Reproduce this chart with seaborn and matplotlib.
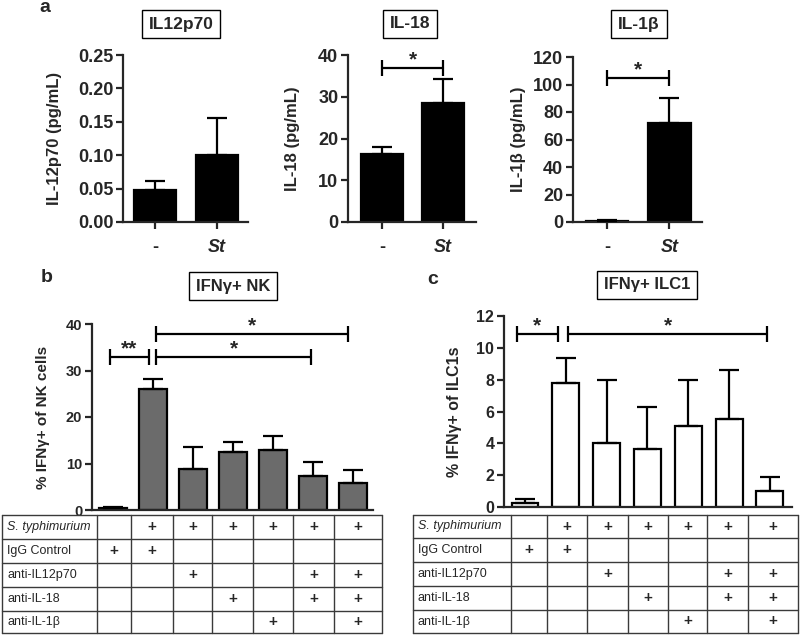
import numpy as np
import pandas as pd
import seaborn as sns
import matplotlib.pyplot as plt

# ---- data ----
a_groups = ['-', 'St']
il12_mean = [0.048, 0.100]
il12_top = [0.062, 0.155]
il18_mean = [16.2, 28.6]
il18_top = [18.0, 34.3]
il1b_mean = [1.0, 72.0]
il1b_top = [1.5, 90.5]

conds = ['c1', 'c2', 'c3', 'c4', 'c5', 'c6', 'c7']
nk_mean = [0.4, 26.0, 8.9, 12.5, 12.9, 7.3, 5.8]
nk_top = [0.55, 28.1, 13.5, 14.6, 15.9, 10.3, 8.7]
ilc_mean = [0.25, 7.8, 4.0, 3.65, 5.1, 5.5, 1.0]
ilc_top = [0.5, 9.35, 8.0, 6.3, 8.0, 8.6, 1.9]

row_labels = ['S. typhimurium', 'IgG Control', 'anti-IL12p70', 'anti-IL-18', 'anti-IL-1\u03b2']
st_row = [0, 1, 1, 1, 1, 1, 1]
igg_row = [1, 1, 0, 0, 0, 0, 0]
il12_row = [0, 0, 1, 0, 0, 1, 1]
il18_row = [0, 0, 0, 1, 0, 1, 1]
il1b_row = [0, 0, 0, 0, 1, 0, 1]
table_rows = [st_row, igg_row, il12_row, il18_row, il1b_row]

# significance brackets: (x1, x2, y, text)
il18_sig = [(0, 1, 37, '*')]
il1b_sig = [(0, 1, 105, '*')]
nk_sig = [(-0.08, 0.9, 33, '**'), (1.08, 4.95, 33, '*'), (1.08, 5.88, 37.8, '*')]
ilc_sig = [(-0.2, 0.8, 10.9, '*'), (1.05, 5.93, 10.9, '*')]

sns.set_style('ticks')
plt.rcParams['font.family'] = ['Liberation Sans', 'DejaVu Sans']
plt.rcParams['axes.linewidth'] = 1.6

W, H = 800, 635
fig = plt.figure(figsize=(8, 6.35), dpi=100)


def rect(l, t, r, b):
    return [l / W, 1 - b / H, (r - l) / W, (b - t) / H]


def bar_panel(box, groups, mean, top, color, ylim, yticks, xlim, width, fsize, lsize, ylabel,
              label_px, fmt=None):
    ax = fig.add_axes(rect(*box))
    df = pd.DataFrame({'g': groups, 'v': mean})
    sns.barplot(data=df, x='g', y='v', order=groups, color=color, edgecolor='black',
                linewidth=1.6, width=width, errorbar=None, saturation=1, ax=ax)
    xs = np.arange(len(groups))
    up = np.array(top) - np.array(mean)
    ax.errorbar(xs, mean, yerr=[np.zeros(len(xs)), up], fmt='none', ecolor='black',
                elinewidth=1.6, capsize=7, capthick=1.6, zorder=3)
    ax.set_ylim(*ylim)
    ax.set_yticks(yticks)
    if fmt:
        ax.set_yticklabels([fmt.format(t) for t in yticks])
    ax.set_xlim(*xlim)
    ax.set_xlabel('')
    ax.set_ylabel(ylabel, fontsize=lsize, fontweight='bold')
    lx = (label_px - box[0]) / (box[2] - box[0])
    ax.yaxis.set_label_coords(lx, 0.5)
    ax.tick_params(axis='y', direction='out', length=5, width=1.6, labelsize=fsize, pad=2)
    ax.tick_params(axis='x', direction='out', length=5, width=1.6)
    for t in ax.get_yticklabels():
        t.set_fontweight('bold')
    sns.despine(ax=ax)
    return ax


def sig(ax, items, fs, ms):
    for x1, x2, y, s in items:
        ax.plot([x1, x2], [y, y], color='black', lw=1.6)
        ax.plot([x1, x2], [y, y], ls='none', marker='|', ms=ms, mew=1.6, color='black')
        ax.annotate(s, xy=((x1 + x2) / 2, y), xytext=(0, -1), textcoords='offset points',
                    ha='center', va='bottom', fontsize=fs, fontweight='bold')


def title_box(x, y, s, fs):
    fig.text(x / W, 1 - y / H, s, ha='center', va='center', fontsize=fs, fontweight='bold',
             bbox=dict(boxstyle='square,pad=0.4', fc='white', ec='black', lw=1))


def a_xticks(ax):
    ax.set_xticks([0, 1])
    ax.set_xticklabels(a_groups, fontsize=13, fontweight='bold')
    ax.get_xticklabels()[1].set_style('italic')
    ax.tick_params(axis='x', pad=7)


# ---- panel a ----
ax1 = bar_panel((123, 55, 248, 222), a_groups, il12_mean, il12_top, 'black', (0, 0.25),
                np.arange(0, 0.251, 0.05), (-0.516, 1.5), 0.69, 13, 12, 'IL-12p70 (pg/mL)', 62,
                fmt='{:.2f}')
a_xticks(ax1)
ax2 = bar_panel((348, 55, 476, 222), a_groups, il18_mean, il18_top, 'black', (0, 40),
                [0, 10, 20, 30, 40], (-0.557, 1.54), 0.7, 13, 12, 'IL-18 (pg/mL)', 300)
a_xticks(ax2)
sig(ax2, il18_sig, 15, 12)
ax3 = bar_panel((573, 57, 702, 222), a_groups, il1b_mean, il1b_top, 'black', (0, 120),
                [0, 20, 40, 60, 80, 100, 120], (-0.54, 1.52), 0.68, 13, 12, 'IL-1\u03b2 (pg/mL)', 526)
a_xticks(ax3)
sig(ax3, il1b_sig, 15, 12)

title_box(181, 24, 'IL12p70', 12.5)
title_box(410, 24, 'IL-18', 12.5)
title_box(639, 24, 'IL-1\u03b2', 12.5)
fig.text(45 / W, 1 - 8 / H, 'a', fontsize=14, fontweight='bold', ha='center', va='center')

# ---- panel b ----
axb = bar_panel((92, 324, 373, 510), conds, nk_mean, nk_top, '#6b6b6b', (0, 40),
                [0, 10, 20, 30, 40], (-0.525, 6.5), 0.68, 10.5, 11, '% IFN\u03b3+ of NK cells', 50)
axb.set_xticks([])
sig(axb, nk_sig, 15, 12)
title_box(233, 286, 'IFN\u03b3+ NK', 12)
fig.text(47 / W, 1 - 278 / H, 'b', fontsize=14, fontweight='bold', ha='center', va='center')

# ---- panel c ----
axc = bar_panel((504, 316, 792, 507), conds, ilc_mean, ilc_top, 'white', (0, 12),
                [0, 2, 4, 6, 8, 10, 12], (-0.515, 6.54), 0.66, 11.5, 11.5, '% IFN\u03b3+ of ILC1s', 462)
axc.set_xticks([])
sig(axc, ilc_sig, 15, 12)
title_box(647, 285, 'IFN\u03b3+ ILC1', 12)
fig.text(433 / W, 1 - 279 / H, 'c', fontsize=14, fontweight='bold', ha='center', va='center')


# ---- condition tables ----
def cond_table(cols, rows):
    tax = fig.add_axes(rect(cols[0], rows[0], cols[-1], rows[-1]))
    tax.set_xlim(cols[0], cols[-1])
    tax.set_ylim(rows[-1], rows[0])
    tax.axis('off')
    for x in cols:
        tax.plot([x, x], [rows[0], rows[-1]], color='#3a3a3a', lw=1, clip_on=False)
    for y in rows:
        tax.plot([cols[0], cols[-1]], [y, y], color='#3a3a3a', lw=1, clip_on=False)
    for i, (lab, vals) in enumerate(zip(row_labels, table_rows)):
        yc = (rows[i] + rows[i + 1]) / 2
        tax.text(cols[0] + 5, yc, lab, ha='left', va='center', fontsize=9,
                 style='italic' if i == 0 else 'normal')
        for j, v in enumerate(vals):
            if v:
                xc = (cols[j + 1] + cols[j + 2]) / 2
                tax.text(xc, yc, '+', ha='center', va='center', fontsize=11, fontweight='bold')


cond_table([2, 97, 131, 173, 212, 253, 293, 334, 382], [515, 539, 563, 587, 611, 633])
cond_table([413, 511, 547, 587, 628, 668, 707, 748, 798], [515, 538, 562, 586, 610, 633])

fig.savefig('out.png', dpi=100)
